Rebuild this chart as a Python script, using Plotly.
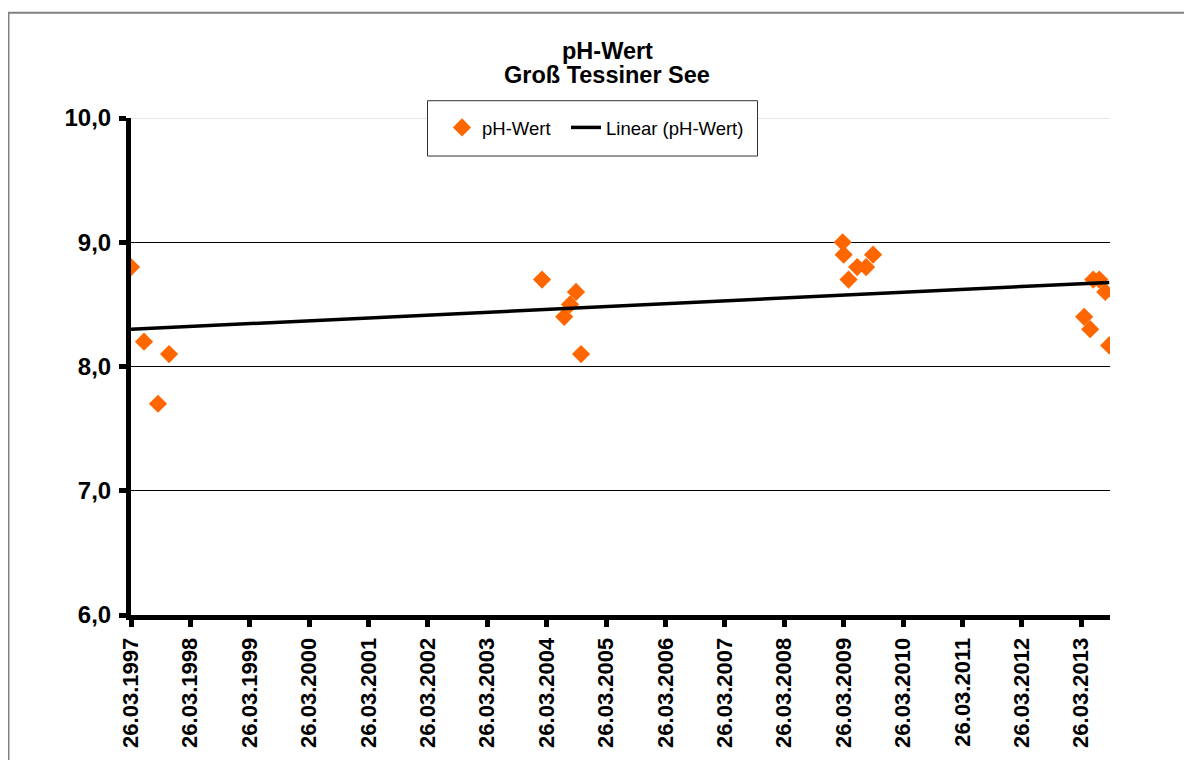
import numpy as np
import pandas as pd
import plotly.graph_objects as go

# ---- data ----
sample_dates = ["1997-03-26", "1997-06-14", "1997-09-08", "1997-11-15",
                "2004-02-26", "2004-07-11", "2004-08-16", "2004-09-22", "2004-10-23",
                "2009-03-20", "2009-03-26", "2009-04-25", "2009-06-17", "2009-08-11", "2009-09-23",
                "2013-04-13", "2013-05-20", "2013-06-08", "2013-07-15", "2013-08-21", "2013-09-14"]
ph_values = [8.8, 8.2, 7.7, 8.1,
             8.7, 8.4, 8.5, 8.6, 8.1,
             9.0, 8.9, 8.7, 8.8, 8.8, 8.9,
             8.4, 8.3, 8.7, 8.7, 8.6, 8.17]
tick_years = [1997, 1998, 1999, 2000, 2001, 2002, 2003, 2004, 2005,
              2006, 2007, 2008, 2009, 2010, 2011, 2012, 2013]
tick_labels = ["26.03.%d" % y for y in tick_years]
tick_dates = ["%d-03-26" % y for y in tick_years]
y_ticks = [6, 7, 8, 9, 10]
y_tick_labels = ["6,0", "7,0", "8,0", "9,0", "10,0"]
x_range = ["1997-03-26", "2013-09-19"]

# ---- linear trend (like Excel's "Linear" trendline) ----
d = pd.to_datetime(sample_dates)
days = (d - d[0]).days.values.astype(float)
slope, intercept = np.polyfit(days, np.array(ph_values), 1)
trend_x = [d.min(), d.max()]
trend_days = np.array([(t - d[0]).days for t in trend_x], dtype=float)
trend_y = slope * trend_days + intercept

# the page body has an 8px margin: work in page pixels and subtract it
OFF = 8
W, H = 1192 - OFF, 760 - OFF
L, R, T, B = 131 - OFF, 82, 118 - OFF, 147 - OFF
pw, ph = W - L - R, H - T - B


def px2x(px):
    return (px - OFF - L) / pw


def px2y(py):
    return (H - B - (py - OFF)) / ph


FONT = "Arial, Liberation Sans, sans-serif"
LEG_FONT = dict(family=FONT, size=18.5, color="black")

fig = go.Figure()
fig.add_trace(go.Scatter(
    x=d, y=ph_values, mode="markers", name="pH-Wert", legend="legend",
    marker=dict(symbol="diamond", size=14, color="#FF6600", line=dict(width=0)),
))
fig.add_trace(go.Scatter(
    x=trend_x, y=trend_y, mode="lines", name="Linear (pH-Wert)", legend="legend2",
    line=dict(color="black", width=3.5),
))

shapes = [
    # outer chart-area border
    dict(type="rect", xref="paper", yref="paper",
         x0=px2x(8.5), x1=px2x(1215), y0=px2y(11.5), y1=px2y(790),
         line=dict(color="#808080", width=2), fillcolor="rgba(0,0,0,0)", layer="below"),
    # top gridline (light)
    dict(type="line", xref="paper", yref="y", x0=0, x1=1, y0=10, y1=10,
         line=dict(color="#e6e6e6", width=2), layer="above"),
    # legend box
    dict(type="rect", xref="paper", yref="paper",
         x0=px2x(427.5), x1=px2x(757.5), y0=px2y(100.5), y1=px2y(156.5),
         line=dict(color="#333333", width=1), fillcolor="white", layer="above"),
]

fig.update_layout(
    width=W, height=H,
    margin=dict(l=L, r=R, t=T, b=B, pad=0),
    paper_bgcolor="white", plot_bgcolor="white",
    font=dict(family=FONT, color="black"),
    showlegend=True,
    legend=dict(orientation="h", x=px2x(442), xanchor="left",
                y=px2y(128), yanchor="middle",
                bgcolor="rgba(0,0,0,0)", borderwidth=0, font=LEG_FONT),
    legend2=dict(orientation="h", x=px2x(566), xanchor="left",
                 y=px2y(128), yanchor="middle",
                 bgcolor="rgba(0,0,0,0)", borderwidth=0, font=LEG_FONT),
    shapes=shapes,
    annotations=[
        dict(text="<b>pH-Wert</b>", xref="paper", yref="paper",
             x=px2x(607), y=px2y(50), xanchor="center", yanchor="middle",
             showarrow=False, font=dict(family=FONT, size=23.5, color="black")),
        dict(text="<b>Groß Tessiner See</b>", xref="paper", yref="paper",
             x=px2x(607), y=px2y(74), xanchor="center", yanchor="middle",
             showarrow=False, font=dict(family=FONT, size=23.5, color="black")),
    ],
)

fig.update_xaxes(
    type="date", range=x_range,
    tickmode="array", tickvals=tick_dates, ticktext=["<b>%s</b>" % t for t in tick_labels],
    tickangle=-90, tickfont=dict(family=FONT, size=22, color="black"),
    ticks="outside", ticklen=7, tickwidth=5, tickcolor="black",
    ticklabelstandoff=2,
    showline=True, linewidth=5, linecolor="black",
    showgrid=False, zeroline=False,
)
fig.update_yaxes(
    range=[6, 10],
    tickmode="array", tickvals=y_ticks, ticktext=["<b>%s</b>" % t for t in y_tick_labels],
    tickfont=dict(family=FONT, size=24, color="black"),
    ticks="outside", ticklen=7, tickwidth=5, tickcolor="black",
    ticklabelstandoff=3,
    showline=True, linewidth=5, linecolor="black",
    showgrid=True, gridcolor="black", gridwidth=1,
    zeroline=False,
)

fig.write_html("out.html")
